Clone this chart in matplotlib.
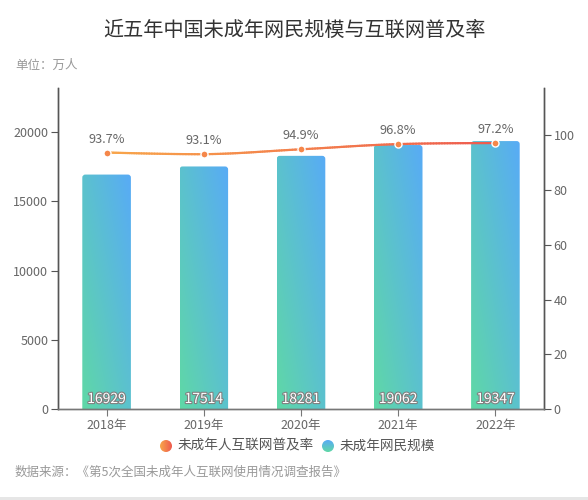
import numpy as np
import matplotlib
matplotlib.use("Agg")
import matplotlib.pyplot as plt
from matplotlib.patches import FancyBboxPatch, Circle, Rectangle
from matplotlib.collections import LineCollection
from matplotlib.colors import to_rgb
import matplotlib.patheffects as pe

plt.rcParams['font.family'] = ['Noto Sans CJK SC', 'DejaVu Sans']

# ---- data ----
years = ["2018年", "2019年", "2020年", "2021年", "2022年"]
users = [16929, 17514, 18281, 19062, 19347]          # 万人
rate = [93.7, 93.1, 94.9, 96.8, 97.2]                 # %
rate_labels = ["93.7%", "93.1%", "94.9%", "96.8%", "97.2%"]
left_ticks = [0, 5000, 10000, 15000, 20000]
right_ticks = [0, 20, 40, 60, 80, 100]

title = "近五年中国未成年网民规模与互联网普及率"
unit = "单位：万人"
source = "数据来源：《第5次全国未成年人互联网使用情况调查报告》"
leg_rate = "未成年人互联网普及率"
leg_users = "未成年网民规模"

# ---- colors ----
green = np.array(to_rgb("#5fd8a6"))
blue = np.array(to_rgb("#58abf6"))
orange = np.array(to_rgb("#f8a64a"))
red = np.array(to_rgb("#ee5a4e"))
txt = "#666666"

W, H = 588, 500
fig = plt.figure(figsize=(W / 100, H / 100), dpi=100)
fig.patch.set_facecolor("white")

ax_l, ax_r, ax_t, ax_b = 58, 544, 88, 409
ax = fig.add_axes([ax_l / W, 1 - ax_b / H, (ax_r - ax_l) / W, (ax_b - ax_t) / H])
ax2 = ax.twinx()

n = len(years)
x = np.arange(n)
ax.set_xlim(-0.5, n - 0.5)
ax.set_ylim(0, 23180)
ax2.set_ylim(0, 117.3)

# gradient bars
bw = 0.5
gy, gx = np.mgrid[0:1:200j, 0:1:60j]
t = np.clip((gx + gy) / 2, 0, 1)[..., None]
grad = green * (1 - t) + blue * t
px_per_x = (ax_r - ax_l) / n
px_per_y = (ax_b - ax_t) / 23180
r_x = 3 / px_per_x
r_y = 3 / px_per_y
for i, v in enumerate(users):
    x0 = i - bw / 2
    patch = FancyBboxPatch((x0, -600), bw, v + 600,
                           boxstyle=f"round,pad=0,rounding_size={r_x}",
                           mutation_aspect=r_y / r_x,
                           transform=ax.transData, facecolor="none", edgecolor="none")
    ax.add_patch(patch)
    im = ax.imshow(grad, extent=(x0, x0 + bw, 0, v), origin="lower",
                   aspect="auto", interpolation="bilinear", zorder=2)
    im.set_clip_path(patch)
    ax.text(i, 720, f"{v}", ha="center", va="center", fontsize=10,
            color="white", zorder=5,
            path_effects=[pe.withStroke(linewidth=1.6, foreground="#808080")])
ax.set_xlim(-0.5, n - 0.5)
ax.set_ylim(0, 23180)

# smooth gradient line
pts = np.column_stack([x, rate]).astype(float)
curve = []
k = 0.2
for i in range(n - 1):
    p0 = pts[i]
    p3 = pts[i + 1]
    prev = pts[i - 1] if i > 0 else pts[i]
    nxt = pts[i + 2] if i + 2 < n else pts[i + 1]
    c1 = p0 + (p3 - prev) * k
    c2 = p3 - (nxt - p0) * k
    c1[1] = np.clip(c1[1], min(p0[1], p3[1]), max(p0[1], p3[1]))
    c2[1] = np.clip(c2[1], min(p0[1], p3[1]), max(p0[1], p3[1]))
    tt = np.linspace(0, 1, 40)[:, None]
    seg = ((1 - tt) ** 3) * p0 + 3 * ((1 - tt) ** 2) * tt * c1 + 3 * (1 - tt) * tt ** 2 * c2 + tt ** 3 * p3
    curve.append(seg if i == 0 else seg[1:])
curve = np.vstack(curve)
segs = np.stack([curve[:-1], curve[1:]], axis=1)
u = ((segs[:, 0, 0] + segs[:, 1, 0]) / 2 - x[0]) / (x[-1] - x[0])
cols = [tuple(orange * (1 - a) + red * a) for a in u]
lc = LineCollection(segs, colors=cols, linewidths=1.6, zorder=4, capstyle="round")
ax2.add_collection(lc)
ax2.scatter(x, rate, s=26, color="#f5874a", edgecolor="white", linewidth=1.0, zorder=6)
for i, (v, lab) in enumerate(zip(rate, rate_labels)):
    ax2.annotate(lab, (i, v), xytext=(0, 5), textcoords="offset points",
                 ha="center", va="bottom", fontsize=9.2, color=txt, zorder=7)

# axes styling
for a in (ax, ax2):
    a.set_facecolor("none")
    a.spines["top"].set_visible(False)
    a.spines["left"].set_color("#555555")
    a.spines["right"].set_color("#555555")
    a.spines["bottom"].set_color("#777777")
    for s in a.spines.values():
        s.set_linewidth(1)
ax.set_xticks(x)
ax.set_xticklabels(years)
ax.set_yticks(left_ticks)
ax.set_yticklabels([str(v) for v in left_ticks])
ax2.set_yticks(right_ticks)
ax2.set_yticklabels([str(v) for v in right_ticks])
ax.tick_params(axis="x", length=5, color="#777777", labelcolor=txt, labelsize=9, pad=2)
ax.tick_params(axis="y", length=5, color="#555555", labelcolor=txt, labelsize=9, pad=2)
ax2.tick_params(axis="y", length=5, color="#555555", labelcolor=txt, labelsize=9, pad=2)
ax.set_zorder(1)
ax2.set_zorder(2)

# texts
fig.text(294 / W, 1 - 30 / H, title, ha="center", va="center", fontsize=14.5, color="#333333")
fig.text(15 / W, 1 - 65 / H, unit, ha="left", va="center", fontsize=9, color="#999999")
fig.text(15 / W, 1 - 472 / H, source, ha="left", va="center", fontsize=9, color="#999999")

# legend
def grad_circle(cx, cy, rad, c_a, c_b, vertical):
    lax = fig.add_axes([(cx - rad) / W, 1 - (cy + rad) / H, 2 * rad / W, 2 * rad / H])
    lax.set_xlim(0, 1)
    lax.set_ylim(0, 1)
    lax.axis("off")
    yy, xx = np.mgrid[0:1:50j, 0:1:50j]
    tt = (yy if vertical else xx)[..., None]
    img = c_a * (1 - tt) + c_b * tt
    im = lax.imshow(img, extent=(0, 1, 0, 1), origin="lower", aspect="auto")
    c = Circle((0.5, 0.5), 0.5, transform=lax.transData, facecolor="none", edgecolor="none")
    lax.add_patch(c)
    im.set_clip_path(c)

grad_circle(166, 446, 6, orange, red, False)
fig.text(178 / W, 1 - 446 / H, leg_rate, ha="left", va="center", fontsize=9.8, color="#555555")
grad_circle(328, 446, 6, green, blue, True)
fig.text(340 / W, 1 - 446 / H, leg_users, ha="left", va="center", fontsize=9.8, color="#555555")

# bottom band
fig.patches.append(Rectangle((0, 0), 1, 3 / H, transform=fig.transFigure,
                             facecolor="#e6e6e6", edgecolor="none"))

fig.savefig("out.png", dpi=100)
